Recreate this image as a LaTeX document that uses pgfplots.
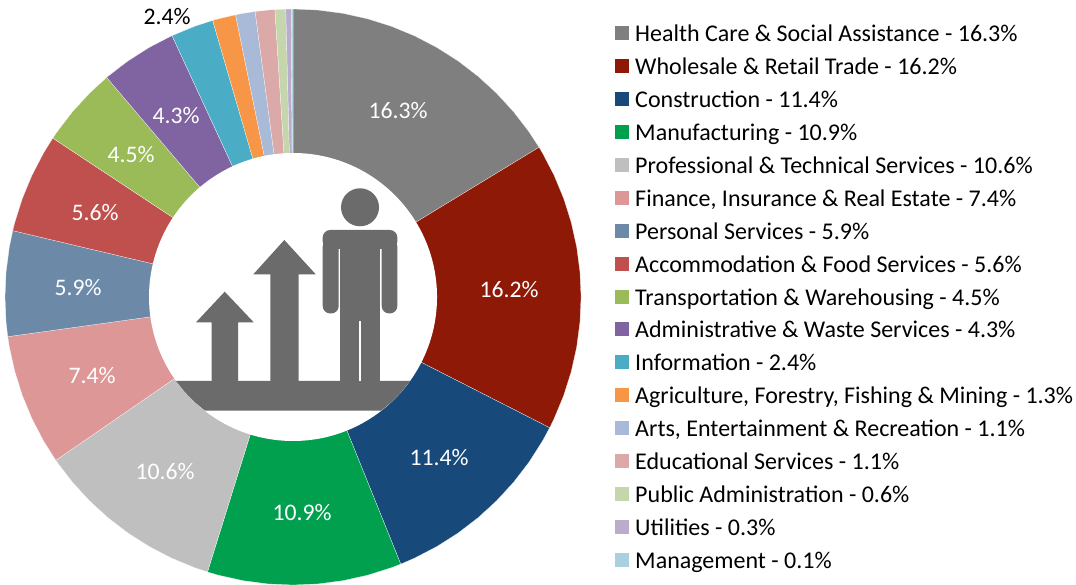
\documentclass[border=0pt]{standalone}
\usepackage{fontspec}
\setmainfont{Carlito}
\usepackage{pgfplots}
\pgfplotsset{compat=1.18}

\definecolor{c1}{HTML}{7F7F7F}
\definecolor{c2}{HTML}{8E1906}
\definecolor{c3}{HTML}{17497B}
\definecolor{c4}{HTML}{00A04F}
\definecolor{c5}{HTML}{BFBFBF}
\definecolor{c6}{HTML}{DE9797}
\definecolor{c7}{HTML}{6C8AA8}
\definecolor{c8}{HTML}{C0504D}
\definecolor{c9}{HTML}{9BBB59}
\definecolor{c10}{HTML}{8064A2}
\definecolor{c11}{HTML}{4BACC6}
\definecolor{c12}{HTML}{F79646}
\definecolor{c13}{HTML}{A9B9D8}
\definecolor{c14}{HTML}{DAA9A8}
\definecolor{c15}{HTML}{C6D6AC}
\definecolor{c16}{HTML}{B9ADCB}
\definecolor{c17}{HTML}{A9D0DF}
\definecolor{icon}{HTML}{6B6B6B}

\pgfplotsset{
  wedge/.style={data cs=polar, fill=#1, draw=white, line width=0.2pt, mark=none},
}
\newcommand{\lab}[3]{\node[text=white, font=\fontsize{23.7}{26}\selectfont] at (axis cs:#1-293,297-#2) {#3\%};}

\begin{document}
\begin{tikzpicture}
\useasboundingbox (0,0) rectangle (1076pt,585pt);
\begin{axis}[
    scale only axis,
    width=1076pt,
    height=585pt,
    xmin=-293, xmax=783,
    ymin=-288, ymax=297,
    hide axis,
    clip=false,
    legend cell align=left,
    legend style={
        at={(axis cs:322,271)},
        anchor=north west,
        draw=none,
        fill=none,
        inner sep=0pt,
        outer sep=0pt,
        row sep=12.44pt,
        font=\fontsize{24}{26}\selectfont,
        nodes={inner sep=0pt, text height=15pt, text depth=5pt},
    },
    legend image code/.code={
        \fill[#1, draw=none] (0pt,-3.5pt) rectangle (14pt,10.5pt);
        \path (0pt,0pt) (20pt,0pt);
    },
]
% percent shares, clockwise from the top; angles are share*3.6
\addplot[wedge=c1] coordinates {(0,0) (90,288) (85,288) (80,288) (75,288) (70,288) (65,288) (60,288) (55,288) (50,288) (45,288) (40,288) (35,288) (31.32,288)} -- cycle;
\addlegendentry{Health Care \& Social Assistance - 16.3\%}
\addplot[wedge=c2] coordinates {(0,0) (31.32,288) (30,288) (25,288) (20,288) (15,288) (10,288) (5,288) (0,288) (-5,288) (-10,288) (-15,288) (-20,288) (-25,288) (-27,288)} -- cycle;
\addlegendentry{Wholesale \& Retail Trade - 16.2\%}
\addplot[wedge=c3] coordinates {(0,0) (-27,288) (-30,288) (-35,288) (-40,288) (-45,288) (-50,288) (-55,288) (-60,288) (-65,288) (-68.04,288)} -- cycle;
\addlegendentry{Construction - 11.4\%}
\addplot[wedge=c4] coordinates {(0,0) (-68.04,288) (-70,288) (-75,288) (-80,288) (-85,288) (-90,288) (-95,288) (-100,288) (-105,288) (-107.28,288)} -- cycle;
\addlegendentry{Manufacturing - 10.9\%}
\addplot[wedge=c5] coordinates {(0,0) (-107.28,288) (-110,288) (-115,288) (-120,288) (-125,288) (-130,288) (-135,288) (-140,288) (-145,288) (-145.44,288)} -- cycle;
\addlegendentry{Professional \& Technical Services - 10.6\%}
\addplot[wedge=c6] coordinates {(0,0) (-145.44,288) (-150,288) (-155,288) (-160,288) (-165,288) (-170,288) (-172.08,288)} -- cycle;
\addlegendentry{Finance, Insurance \& Real Estate - 7.4\%}
\addplot[wedge=c7] coordinates {(0,0) (-172.08,288) (-175,288) (-180,288) (-185,288) (-190,288) (-193.32,288)} -- cycle;
\addlegendentry{Personal Services - 5.9\%}
\addplot[wedge=c8] coordinates {(0,0) (-193.32,288) (-195,288) (-200,288) (-205,288) (-210,288) (-213.48,288)} -- cycle;
\addlegendentry{Accommodation \& Food Services - 5.6\%}
\addplot[wedge=c9] coordinates {(0,0) (-213.48,288) (-215,288) (-220,288) (-225,288) (-229.68,288)} -- cycle;
\addlegendentry{Transportation \& Warehousing - 4.5\%}
\addplot[wedge=c10] coordinates {(0,0) (-229.68,288) (-230,288) (-235,288) (-240,288) (-245,288) (-245.16,288)} -- cycle;
\addlegendentry{Administrative \& Waste Services - 4.3\%}
\addplot[wedge=c11] coordinates {(0,0) (-245.16,288) (-250,288) (-253.8,288)} -- cycle;
\addlegendentry{Information - 2.4\%}
\addplot[wedge=c12] coordinates {(0,0) (-253.8,288) (-255,288) (-258.48,288)} -- cycle;
\addlegendentry{Agriculture, Forestry, Fishing \& Mining - 1.3\%}
\addplot[wedge=c13] coordinates {(0,0) (-258.48,288) (-260,288) (-262.44,288)} -- cycle;
\addlegendentry{Arts, Entertainment \& Recreation - 1.1\%}
\addplot[wedge=c14] coordinates {(0,0) (-262.44,288) (-265,288) (-266.4,288)} -- cycle;
\addlegendentry{Educational Services - 1.1\%}
\addplot[wedge=c15] coordinates {(0,0) (-266.4,288) (-268.56,288)} -- cycle;
\addlegendentry{Public Administration - 0.6\%}
\addplot[wedge=c16] coordinates {(0,0) (-268.56,288) (-269.64,288)} -- cycle;
\addlegendentry{Utilities - 0.3\%}
\addplot[wedge=c17] coordinates {(0,0) (-269.64,288) (-270,288)} -- cycle;
\addlegendentry{Management - 0.1\%}

% hole of the ring
\fill[white] (axis cs:0,0) circle[radius=144pt];

% icon, in offsets from the ring centre (293,297 in px)
\fill[icon] (axis cs:-117,-84) -- (axis cs:117,-84) -- (axis cs:108.2,-95) -- (axis cs:98.5,-105) -- (axis cs:88,-113.7)
    -- (axis cs:-88,-113.7) -- (axis cs:-98.5,-105) -- (axis cs:-108.2,-95) -- cycle;
\fill[icon] (axis cs:-81.3,-84) -- (axis cs:-81.3,-25.3) -- (axis cs:-97,-25.3) -- (axis cs:-68.3,5.3)
    -- (axis cs:-39.3,-25.3) -- (axis cs:-55,-25.3) -- (axis cs:-55,-84) -- cycle;
\fill[icon] (axis cs:-22.7,-84) -- (axis cs:-22.7,22.7) -- (axis cs:-39.7,22.7) -- (axis cs:-8.7,57)
    -- (axis cs:22.7,22.7) -- (axis cs:5.7,22.7) -- (axis cs:5.7,-84) -- cycle;
\fill[icon] (axis cs:67,89.7) circle[radius=19pt];
\fill[icon, rounded corners=7.5pt] (axis cs:29.7,67) rectangle (axis cs:104.3,48);
\fill[icon, rounded corners=7.5pt] (axis cs:29.7,58) rectangle (axis cs:45.7,-16.5);
\fill[icon, rounded corners=7.5pt] (axis cs:88.7,58) rectangle (axis cs:104.3,-16.5);
\fill[icon] (axis cs:47.3,55) rectangle (axis cs:87.3,-84);
\fill[white] (axis cs:66.3,-24) rectangle (axis cs:68.3,-84);

% data labels
\lab{398}{111}{16.3}
\lab{509}{290}{16.2}
\lab{439}{458}{11.4}
\lab{302}{513}{10.9}
\lab{165}{472}{10.6}
\lab{92}{376}{7.4}
\lab{78}{288}{5.9}
\lab{95}{213}{5.6}
\lab{131}{155}{4.5}
\lab{176}{116}{4.3}
\node[text=black, font=\fontsize{23.7}{26}\selectfont] at (axis cs:167-293,297-17) {2.4\%};
\end{axis}
\end{tikzpicture}
\end{document}
